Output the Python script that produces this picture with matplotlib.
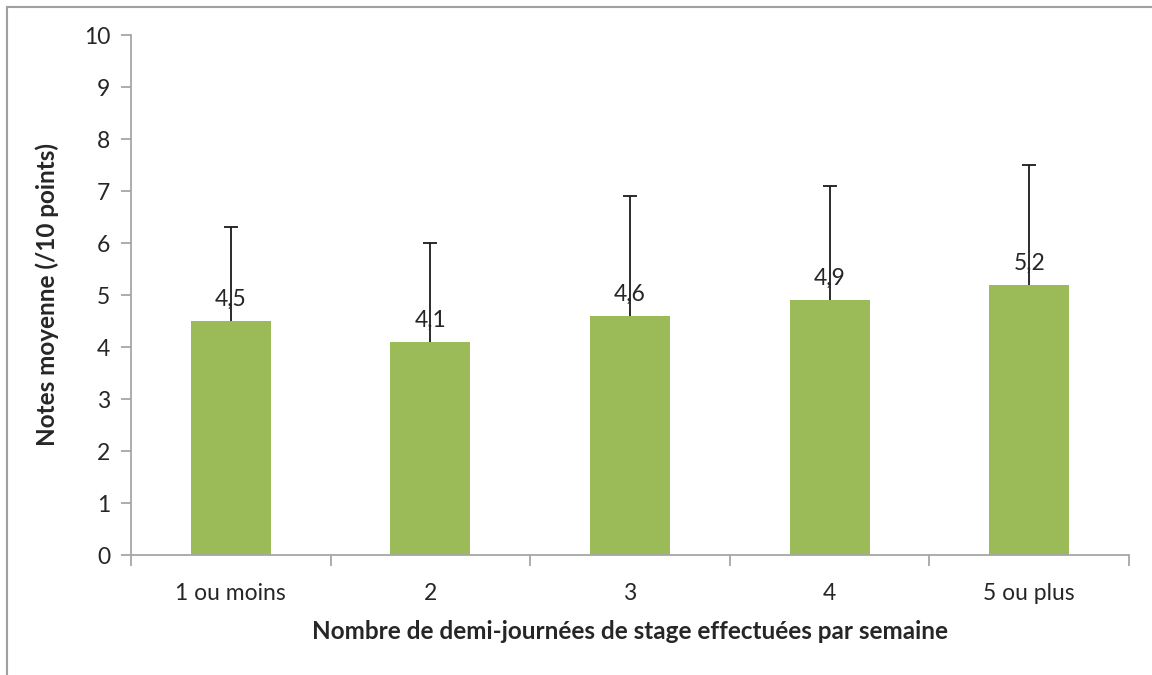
import numpy as np
import matplotlib.pyplot as plt
from matplotlib.lines import Line2D

categories = ["1 ou moins", "2", "3", "4", "5 ou plus"]
means = [4.5, 4.1, 4.6, 4.9, 5.2]
errors = [1.8, 1.9, 2.3, 2.2, 2.3]
labels = ["4,5", "4,1", "4,6", "4,9", "5,2"]

plt.rcParams["font.family"] = ["Lato", "DejaVu Sans"]
text_color = "#262626"
axis_color = "#A6A6A6"

fig = plt.figure(figsize=(11.52, 6.75), dpi=100)
ax = fig.add_axes([131 / 1152, 1 - 555 / 675, (1129 - 131) / 1152, (555 - 35) / 675])

x = np.arange(len(categories))
tops = np.array(means) + np.array(errors)
ax.bar(x, means, width=0.4, color="#9BBB59")
# upper error bars only (no cap at the bar top)
ax.vlines(x, means, tops, color="#1a1a1a", linewidth=1.3)
ax.plot(x, tops, linestyle="none", marker="_", markersize=10, markeredgewidth=1.3,
        color="#1a1a1a")

for xi, m, lab in zip(x, means, labels):
    ax.annotate(lab, (xi, m), xytext=(0, 8), textcoords="offset points",
                ha="center", va="bottom", fontsize=16.5, color=text_color)

ax.set_xlim(-0.5, len(categories) - 0.5)
ax.set_ylim(0, 10)
ax.set_yticks(range(0, 11))
ax.tick_params(axis="y", labelsize=16.5, colors=axis_color, labelcolor=text_color,
               length=7, width=1.3, pad=8)
ax.set_xticks(x)
ax.set_xticklabels(categories)
ax.set_xticks(np.arange(-0.5, len(categories)), minor=True)
ax.tick_params(axis="x", which="major", length=0, labelsize=16.5, labelcolor=text_color, pad=20)
ax.tick_params(axis="x", which="minor", length=8, width=1.3, colors=axis_color)

for s in ["top", "right"]:
    ax.spines[s].set_visible(False)
for s in ["left", "bottom"]:
    ax.spines[s].set_color(axis_color)
    ax.spines[s].set_linewidth(1.3)

ax.set_ylabel("Notes moyenne (/10 points)", fontsize=17.5, fontweight="bold",
              color=text_color, labelpad=18)
ax.set_xlabel("Nombre de demi-journées de stage effectuées par semaine", fontsize=17.5,
              fontweight="bold", color=text_color, labelpad=12)

# outer frame (only top and left visible in the crop)
fig.lines.append(Line2D([7 / 1152, 7 / 1152], [0, 1 - 7 / 675], transform=fig.transFigure,
                        color="#A0A0A0", linewidth=1.5))
fig.lines.append(Line2D([7 / 1152, 1], [1 - 7 / 675, 1 - 7 / 675], transform=fig.transFigure,
                        color="#A0A0A0", linewidth=1.5))

fig.savefig("out.png", dpi=100)
